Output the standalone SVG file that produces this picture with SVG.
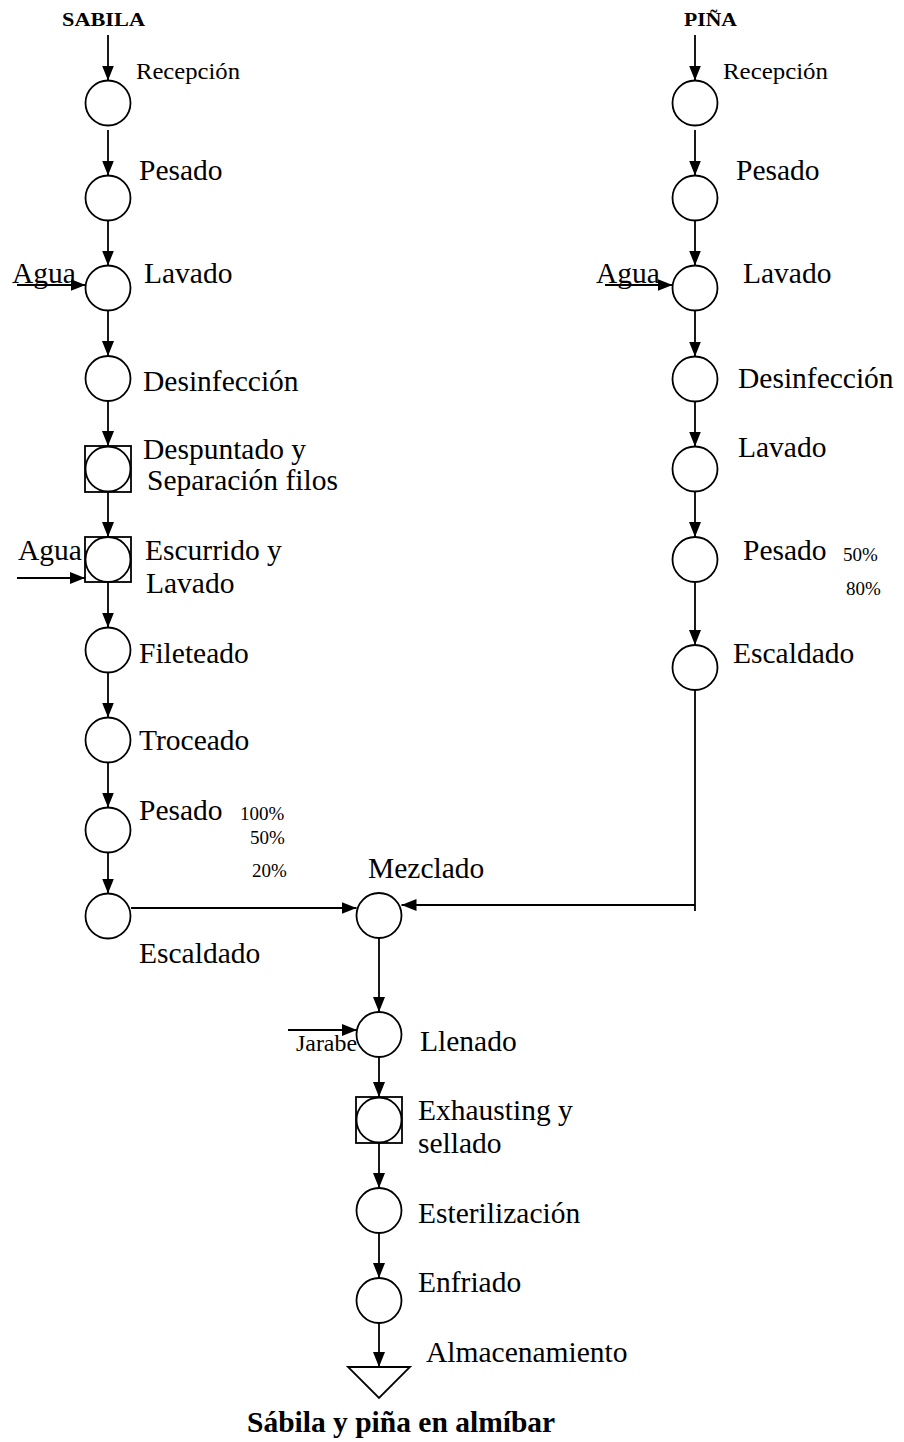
<svg xmlns="http://www.w3.org/2000/svg" width="904" height="1442" viewBox="0 0 904 1442">
<style>
.n{fill:#fff;stroke:#000;stroke-width:1.8}
.c{fill:none;stroke:#000;stroke-width:1.8}
.a{marker-end:url(#ah)}
text{font-family:"Liberation Serif","Times New Roman",serif;fill:#000}
.l{font-size:29.5px}
.s{font-size:23px}
.p{font-size:19px}
.b{font-weight:bold}
</style>
<defs>
<marker id="ah" markerUnits="userSpaceOnUse" markerWidth="16" markerHeight="12" refX="15" refY="6" orient="auto">
<path d="M0,0 L15,6 L0,12 z" fill="#000"/>
</marker>
</defs>
<rect width="904" height="1442" fill="#fff"/>
<g id="connectors">
<line class="c a" x1="108" y1="35" x2="108" y2="80.5"/>
<line class="c a" x1="108" y1="130" x2="108" y2="175.5"/>
<line class="c a" x1="108" y1="221" x2="108" y2="265.5"/>
<line class="c a" x1="108" y1="311" x2="108" y2="356"/>
<line class="c a" x1="108" y1="401" x2="108" y2="446"/>
<line class="c a" x1="108" y1="492" x2="108" y2="537"/>
<line class="c a" x1="108" y1="582" x2="108" y2="627.5"/>
<line class="c a" x1="108" y1="672.5" x2="108" y2="717.5"/>
<line class="c a" x1="108" y1="762.5" x2="108" y2="807.5"/>
<line class="c a" x1="108" y1="852.5" x2="108" y2="893.5"/>
<line class="c a" x1="17" y1="285" x2="85.5" y2="285"/>
<line class="c a" x1="17" y1="578" x2="85" y2="578"/>
<line class="c a" x1="131" y1="908" x2="356.5" y2="908"/>
<line class="c a" x1="695" y1="35" x2="695" y2="80.5"/>
<line class="c a" x1="695" y1="130" x2="695" y2="175.5"/>
<line class="c a" x1="695" y1="221" x2="695" y2="265.5"/>
<line class="c a" x1="695" y1="311" x2="695" y2="356.5"/>
<line class="c a" x1="695" y1="401.5" x2="695" y2="446.5"/>
<line class="c a" x1="695" y1="491.5" x2="695" y2="537"/>
<line class="c a" x1="695" y1="582" x2="695" y2="645"/>
<line class="c a" x1="605" y1="285" x2="672.5" y2="285"/>
<line class="c" x1="695" y1="690" x2="695" y2="911"/>
<line class="c a" x1="695" y1="905" x2="401.5" y2="905"/>
<line class="c a" x1="379" y1="938" x2="379" y2="1012"/>
<line class="c a" x1="288" y1="1030" x2="357" y2="1030"/>
<line class="c a" x1="379" y1="1057" x2="379" y2="1097"/>
<line class="c a" x1="379" y1="1143" x2="379" y2="1188"/>
<line class="c a" x1="379" y1="1233" x2="379" y2="1278"/>
<line class="c a" x1="379" y1="1323" x2="379" y2="1367"/>
</g>
<g id="title-sabila"><text class="p b" x="62" y="26" textLength="83" lengthAdjust="spacingAndGlyphs">SABILA</text></g>
<g id="title-pina"><text class="p b" x="684" y="26" textLength="53" lengthAdjust="spacingAndGlyphs">PIÑA</text></g>
<g id="s-recepcion"><circle class="n" cx="108" cy="103" r="22.5"/><text class="s" x="136" y="79" textLength="104" lengthAdjust="spacingAndGlyphs">Recepción</text></g>
<g id="s-pesado"><circle class="n" cx="108" cy="198" r="22.5"/><text class="l" x="139" y="180">Pesado</text></g>
<g id="s-lavado"><circle class="n" cx="108" cy="288" r="22.5"/><text class="l" x="144" y="283">Lavado</text><text class="l" x="12" y="283">Agua</text></g>
<g id="s-desinfeccion"><circle class="n" cx="108" cy="378.5" r="22.5"/><text class="l" x="143" y="391">Desinfección</text></g>
<g id="s-despuntado"><rect class="n" x="85" y="446" width="46" height="46"/><circle class="n" cx="108" cy="469" r="22.5"/><text class="l" x="143" y="459">Despuntado y</text><text class="l" x="147" y="490">Separación filos</text></g>
<g id="s-escurrido"><rect class="n" x="85" y="537" width="46" height="45"/><circle class="n" cx="108" cy="559.5" r="22.5"/><text class="l" x="145" y="560">Escurrido y</text><text class="l" x="146" y="593">Lavado</text><text class="l" x="18" y="560">Agua</text></g>
<g id="s-fileteado"><circle class="n" cx="108" cy="650" r="22.5"/><text class="l" x="139" y="663">Fileteado</text></g>
<g id="s-troceado"><circle class="n" cx="108" cy="740" r="22.5"/><text class="l" x="139" y="750">Troceado</text></g>
<g id="s-pesado2"><circle class="n" cx="108" cy="830" r="22.5"/><text class="l" x="139" y="820">Pesado</text><text class="p" x="240" y="820">100%</text><text class="p" x="250" y="844">50%</text><text class="p" x="252" y="877">20%</text></g>
<g id="s-escaldado"><circle class="n" cx="108" cy="916" r="22.5"/><text class="l" x="139" y="963">Escaldado</text></g>
<g id="p-recepcion"><circle class="n" cx="695" cy="103" r="22.5"/><text class="s" x="723" y="79" textLength="105" lengthAdjust="spacingAndGlyphs">Recepción</text></g>
<g id="p-pesado"><circle class="n" cx="695" cy="198" r="22.5"/><text class="l" x="736" y="180">Pesado</text></g>
<g id="p-lavado"><circle class="n" cx="695" cy="288" r="22.5"/><text class="l" x="743" y="283">Lavado</text><text class="l" x="596" y="283">Agua</text></g>
<g id="p-desinfeccion"><circle class="n" cx="695" cy="379" r="22.5"/><text class="l" x="738" y="388">Desinfección</text></g>
<g id="p-lavado2"><circle class="n" cx="695" cy="469" r="22.5"/><text class="l" x="738" y="457">Lavado</text></g>
<g id="p-pesado2"><circle class="n" cx="695" cy="559.5" r="22.5"/><text class="l" x="743" y="560">Pesado</text><text class="p" x="843" y="561">50%</text><text class="p" x="846" y="595">80%</text></g>
<g id="p-escaldado"><circle class="n" cx="695" cy="667.5" r="22.5"/><text class="l" x="733" y="663">Escaldado</text></g>
<g id="mezclado"><circle class="n" cx="379" cy="915.5" r="22.5"/><text class="l" x="368" y="878">Mezclado</text></g>
<g id="llenado"><circle class="n" cx="379" cy="1034.5" r="22.5"/><text class="l" x="420" y="1051">Llenado</text><text class="s" x="296" y="1051" textLength="61" lengthAdjust="spacingAndGlyphs">Jarabe</text></g>
<g id="exhausting"><rect class="n" x="356" y="1097" width="46" height="46"/><circle class="n" cx="379" cy="1120" r="22.5"/><text class="l" x="418" y="1120">Exhausting y</text><text class="l" x="418" y="1153">sellado</text></g>
<g id="esterilizacion"><circle class="n" cx="379" cy="1210.5" r="22.5"/><text class="l" x="418" y="1223">Esterilización</text></g>
<g id="enfriado"><circle class="n" cx="379" cy="1300.5" r="22.5"/><text class="l" x="418" y="1292">Enfriado</text></g>
<g id="almacenamiento"><polygon class="n" points="348,1367 410,1367 379,1398"/><text class="l" x="426" y="1362">Almacenamiento</text></g>
<g id="producto"><text class="l b" x="247" y="1432">Sábila y piña en almíbar</text></g>
</svg>
